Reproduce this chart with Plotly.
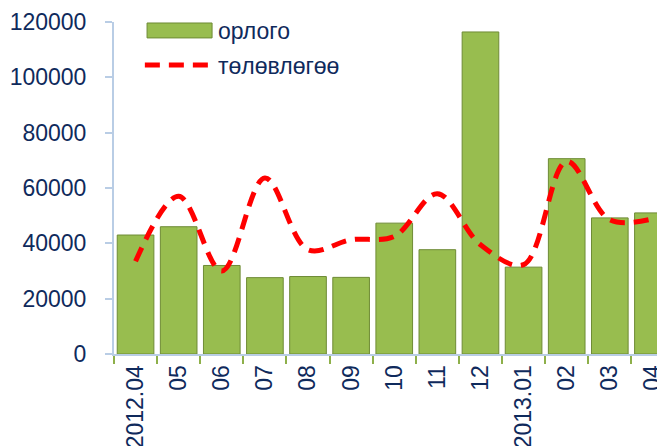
import plotly.graph_objects as go

categories = ["2012.04", "05", "06", "07", "08", "09", "10", "11", "12", "2013.01", "02", "03", "04"]
orlogo = [43000, 46000, 32000, 27600, 28000, 27700, 47300, 37700, 116400, 31400, 70600, 49200, 51000]
tolovlogoo = [33500, 57000, 30000, 63600, 37700, 41300, 42500, 57900, 39500, 32300, 69600, 48500, 48900]
y_ticks = [0, 20000, 40000, 60000, 80000, 100000, 120000]

FONT = "Liberation Sans, Arial, DejaVu Sans, sans-serif"
NAVY = "#0f2a5c"

fig = go.Figure()
fig.add_trace(go.Bar(
    x=categories, y=orlogo, name="орлого",
    marker=dict(color="#98bd4f", line=dict(color="#6e8b35", width=1)),
    showlegend=False,
))
fig.add_trace(go.Scatter(
    x=categories, y=tolovlogoo, name="төлөвлөгөө", mode="lines",
    line=dict(color="#ff0000", width=5, dash="15px,9px", shape="spline", smoothing=1.0),
    showlegend=False,
))

# legend drawn manually (paper coordinates)
fig.add_shape(type="rect", xref="paper", yref="paper", x0=0.06, x1=0.178, y0=0.952, y1=0.997,
              fillcolor="#98bd4f", line=dict(color="#6e8b35", width=1))
fig.add_shape(type="line", xref="paper", yref="paper", x0=0.056, x1=0.178, y0=0.8705, y1=0.8705,
              line=dict(color="#ff0000", width=5, dash="15px,9px"))
fig.add_annotation(xref="paper", yref="paper", x=0.185, y=0.973, text="орлого", showarrow=False,
                   xanchor="left", yanchor="middle", font=dict(family=FONT, size=23, color=NAVY))
fig.add_annotation(xref="paper", yref="paper", x=0.185, y=0.8675, text="төлөвлөгөө", showarrow=False,
                   xanchor="left", yanchor="middle", font=dict(family=FONT, size=23, color=NAVY))

# page body has an 8px margin, so the figure is 8px smaller and margins shifted
fig.update_layout(
    width=657, height=438,
    margin=dict(l=106, r=0, t=14, b=92, autoexpand=False),
    paper_bgcolor="white", plot_bgcolor="white",
    bargap=0.15,
    font=dict(family=FONT, size=23, color=NAVY),
)
fig.update_xaxes(
    type="category", range=[-0.5, 12.28], automargin=False,
    showline=True, linecolor="#b9cde5", linewidth=2,
    ticks="outside", tickson="boundaries", ticklen=8, tickcolor="#8eb04a", tickwidth=2,
    tickangle=-90, tickfont=dict(family=FONT, size=23, color=NAVY),
    showgrid=False, zeroline=False,
)
fig.update_yaxes(
    range=[0, 120000], tickvals=y_ticks, tickformat="d", automargin=False,
    showline=True, linecolor="#b9cde5", linewidth=2,
    ticks="outside", ticklen=7, tickcolor="#b9cde5", tickwidth=2,
    ticklabelstandoff=14,
    tickfont=dict(family=FONT, size=23, color=NAVY),
    showgrid=False, zeroline=False,
)

fig.write_html("out.html")
